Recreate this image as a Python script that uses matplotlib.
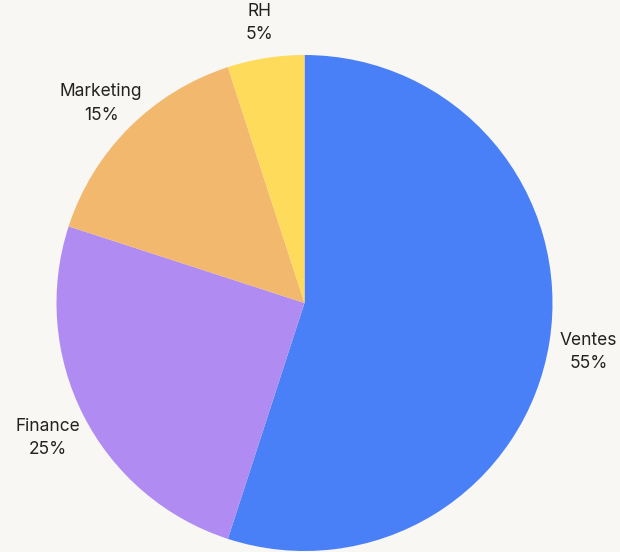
import matplotlib
matplotlib.use("Agg")
import matplotlib.pyplot as plt
from matplotlib.transforms import offset_copy

categories = ["Ventes", "Finance", "Marketing", "RH"]
values = [55, 25, 15, 5]
colors = ["#4a80f7", "#b08cf2", "#f2b86e", "#ffdb5c"]
bg = "#f8f7f3"

plt.rcParams['font.family'] = ['Inter', 'DejaVu Sans']

W, H = 620, 552
fig = plt.figure(figsize=(W/100, H/100), dpi=100, facecolor=bg)
cx, cy, r = 304.5, 303, 248
ax = fig.add_axes([(cx - r)/W, (H - cy - r)/H, 2*r/W, 2*r/H])
ax.set_facecolor(bg)

labels = [f"{c}\n{v}%" for c, v in zip(categories, values)]
wedges, texts = ax.pie(values, labels=labels, colors=colors, startangle=90,
                       counterclock=False, radius=1, labeldistance=1.16,
                       wedgeprops=dict(linewidth=0),
                       textprops=dict(fontsize=12.5, color="#222222", linespacing=1.5))
for t in texts:
    t.set_ha("center")
    t.set_va("center")
    t.set_transform(offset_copy(ax.transData, fig=fig, x=0, y=-3, units="points"))
ax.set_xlim(-1, 1)
ax.set_ylim(-1, 1)
ax.set_aspect("equal")
ax.axis("off")
fig.savefig("out.png", dpi=100, facecolor=bg)
